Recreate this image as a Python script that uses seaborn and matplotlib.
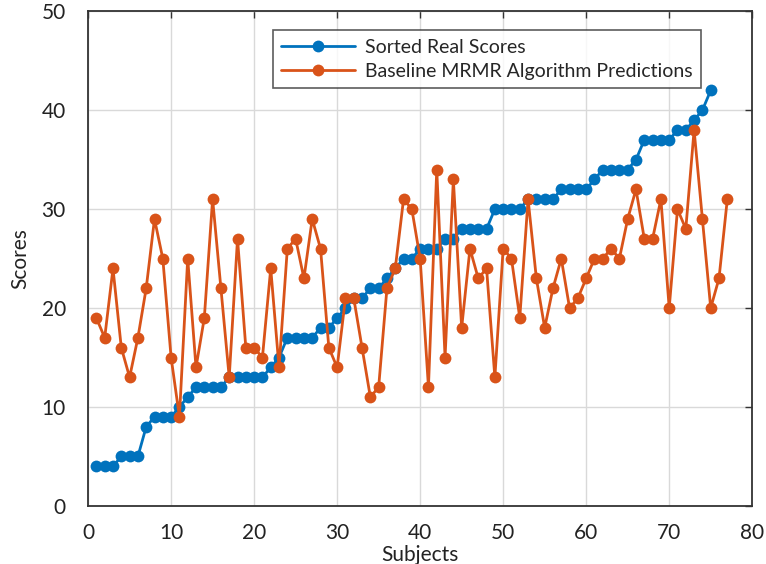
import numpy as np
import pandas as pd
import matplotlib
matplotlib.use("Agg")
import matplotlib.pyplot as plt
import seaborn as sns

# Sorted ground-truth scores, one per subject
real_scores = [4, 4, 4, 5, 5, 5, 8, 9, 9, 9, 10, 11, 12, 12, 12, 12, 13, 13, 13, 13,
               13, 14, 15, 17, 17, 17, 17, 18, 18, 19, 20, 21, 21, 22, 22, 23, 24, 25, 25, 26,
               26, 26, 27, 27, 28, 28, 28, 28, 30, 30, 30, 30, 31, 31, 31, 31, 32, 32, 32, 32,
               33, 34, 34, 34, 34, 35, 37, 37, 37, 37, 38, 38, 39, 40, 42]

# Predicted scores from the baseline MRMR model
mrmr_pred = [19, 17, 24, 16, 13, 17, 22, 29, 25, 15, 9, 25, 14, 19, 31, 22, 13, 27, 16, 16,
             15, 24, 14, 26, 27, 23, 29, 26, 16, 14, 21, 21, 16, 11, 12, 22, 24, 31, 30, 25,
             12, 34, 15, 33, 18, 26, 23, 24, 13, 26, 25, 19, 31, 23, 18, 22, 25, 20, 21, 23,
             25, 25, 26, 25, 29, 32, 27, 27, 31, 20, 30, 28, 38, 29, 20, 23, 31]

series_names = ["Sorted Real Scores", "Baseline MRMR Algorithm Predictions"]
x_ticks = [0, 10, 20, 30, 40, 50, 60, 70, 80]
y_ticks = [0, 10, 20, 30, 40, 50]

df = pd.concat([
    pd.DataFrame({"Subject": np.arange(1, len(real_scores) + 1),
                  "Score": real_scores, "Series": series_names[0]}),
    pd.DataFrame({"Subject": np.arange(1, len(mrmr_pred) + 1),
                  "Score": mrmr_pred, "Series": series_names[1]}),
], ignore_index=True)

sns.set_style("white")
plt.rcParams["font.family"] = ["Lato", "DejaVu Sans"]

fig = plt.figure(figsize=(7.66, 5.64), dpi=100)
ax = fig.add_axes([0.115, 0.103, 0.867, 0.877])

palette = {series_names[0]: "#0072BD", series_names[1]: "#D95319"}
sns.lineplot(data=df, x="Subject", y="Score", hue="Series", palette=palette,
             marker="o", markersize=8.5, markeredgewidth=0, linewidth=2.0,
             ax=ax, legend=True)

ax.set_xlim(0, 80)
ax.set_ylim(0, 50)
ax.set_xticks(x_ticks)
ax.set_yticks(y_ticks)
ax.tick_params(axis="both", direction="in", length=5, width=1.0, color="#333333",
               labelsize=15, labelcolor="#222222", top=True, right=True)
ax.tick_params(axis="x", pad=12)
ax.tick_params(axis="y", pad=16)
ax.grid(True, color="#d9d9d9", linewidth=1.0)
for side in ax.spines.values():
    side.set_visible(True)
    side.set_color("#333333")
    side.set_linewidth(1.3)

ax.set_xlabel("Subjects", fontsize=15, color="#222222", labelpad=2)
ax.set_ylabel("Scores", fontsize=15, color="#222222", labelpad=8)

leg = ax.legend(loc="upper left", bbox_to_anchor=(0.278, 0.962), fontsize=14,
                frameon=True, fancybox=False, edgecolor="#333333",
                handlelength=3.8, borderpad=0.45, labelspacing=0.35,
                handletextpad=0.5, borderaxespad=0)
leg.get_frame().set_linewidth(1.2)
for h in leg.legend_handles:
    h.set_markersize(8.5)

fig.savefig("out.png", dpi=100)
